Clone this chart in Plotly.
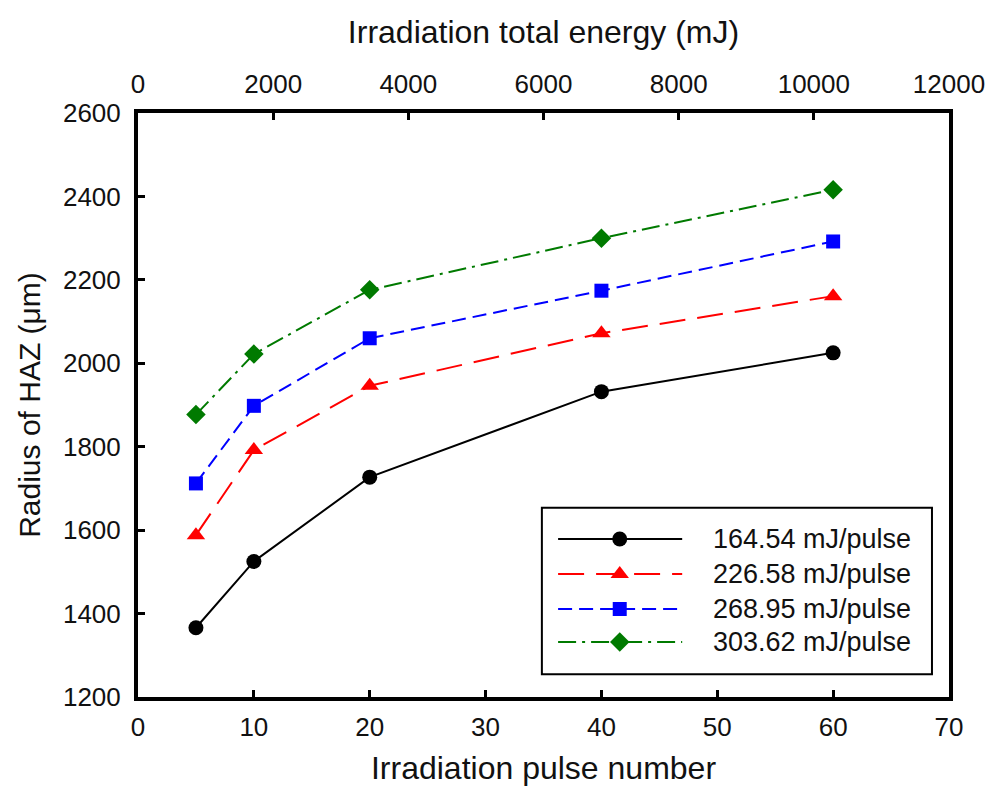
import plotly.graph_objects as go

# Irradiation pulse numbers (bottom axis)
pulses = [5, 10, 20, 40, 60]

# Span of the irradiation total energy axis (mJ, top axis)
energy_span = [0, 12000]

# Radius of the heat-affected zone (um) for each pulse energy
r_164 = [1366, 1525, 1727, 1932, 2025]
r_226 = [1588, 1792, 1946, 2072, 2161]
r_268 = [1712, 1898, 2060, 2174, 2292]
r_303 = [1877, 2022, 2176, 2300, 2416]

series_names = ["164.54 mJ/pulse", "226.58 mJ/pulse", "268.95 mJ/pulse", "303.62 mJ/pulse"]
series_values = [r_164, r_226, r_268, r_303]

# Style of each series
styles = [
    dict(color="#000000", dash="solid", symbol="circle", size=15),
    dict(color="#ff0000", dash="26px,12px", symbol="triangle-up", size=16),
    dict(color="#0000ff", dash="14px,7px", symbol="square", size=14),
    dict(color="#007a00", dash="18px,6px,3px,6px", symbol="diamond", size=15),
]

FONT = "Liberation Sans, Arial, sans-serif"

fig = go.Figure()

for name, vals, st in zip(series_names, series_values, styles):
    fig.add_trace(go.Scatter(
        x=pulses, y=vals, name=name, mode="lines+markers",
        line=dict(color=st["color"], width=2, dash=st["dash"]),
        marker=dict(color=st["color"], symbol=st["symbol"], size=st["size"]),
        showlegend=False,
    ))

# Invisible trace that carries the top (total energy) axis
fig.add_trace(go.Scatter(
    x=energy_span, y=[1200, 1200], xaxis="x2", mode="none",
    showlegend=False, hoverinfo="skip",
))

# Hand-built legend drawn in plot-area fractions on a hidden overlay axis pair
leg_x0, leg_x1 = 0.498, 0.979
leg_y0, leg_y1 = 0.039, 0.324
row_y = [0.2705, 0.2106, 0.1507, 0.0942]
sample_x0, sample_xm, sample_x1 = 0.518, 0.594, 0.671
text_x = 0.707

fig.add_shape(type="rect", xref="paper", yref="paper",
              x0=leg_x0, x1=leg_x1, y0=leg_y0, y1=leg_y1,
              line=dict(color="#000000", width=2), fillcolor="white", layer="below")

for name, st, yr in zip(series_names, styles, row_y):
    # sample line
    fig.add_trace(go.Scatter(
        x=[sample_x0, sample_x1], y=[yr, yr],
        xaxis="x3", yaxis="y3", mode="lines",
        line=dict(color=st["color"], width=2, dash=st["dash"]),
        showlegend=False, hoverinfo="skip",
    ))
    # sample marker
    fig.add_trace(go.Scatter(
        x=[sample_xm], y=[yr],
        xaxis="x3", yaxis="y3", mode="markers",
        marker=dict(color=st["color"], symbol=st["symbol"], size=st["size"]),
        showlegend=False, hoverinfo="skip",
    ))
    fig.add_annotation(x=text_x, y=yr, xref="paper", yref="paper",
                       text=name, showarrow=False, xanchor="left", yanchor="middle",
                       font=dict(family=FONT, size=27, color="#111111"))

axis_common = dict(
    showgrid=False, zeroline=False, showline=True, linecolor="#000000", linewidth=4,
    ticks="inside", ticklen=7, tickwidth=3, tickcolor="#000000", automargin=False,
    tickfont=dict(family=FONT, size=26, color="#111111"),
)

fig.update_layout(
    width=992, height=798,
    margin=dict(l=138, r=43, t=113, b=101),
    paper_bgcolor="white", plot_bgcolor="white",
    font=dict(family=FONT, color="#111111"),
    showlegend=False,
    xaxis=dict(range=[0, 70], dtick=10, tick0=0, mirror=True,
               title=dict(text="Irradiation pulse number", font=dict(family=FONT, size=32), standoff=16),
               ticklabelstandoff=4, **axis_common),
    xaxis2=dict(range=energy_span, dtick=2000, tick0=0, overlaying="x", side="top",
                tickformat="d",
                title=dict(text="Irradiation total energy (mJ)", font=dict(family=FONT, size=32), standoff=16),
                ticklabelstandoff=6, **axis_common),
    yaxis=dict(range=[1200, 2600], dtick=200, tick0=1200, mirror=True,
               title=dict(text="Radius of HAZ (\u03bcm)", font=dict(family=FONT, size=30), standoff=14),
               ticklabelstandoff=8, **axis_common),
    xaxis3=dict(range=[0, 1], overlaying="x", visible=False, fixedrange=True),
    yaxis3=dict(range=[0, 1], overlaying="y", visible=False, fixedrange=True),
)

fig.write_html("out.html")
